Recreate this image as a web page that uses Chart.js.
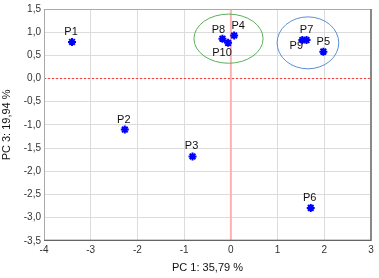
<!DOCTYPE html>
<html>
<head>
<meta charset="utf-8">
<script src="https://cdn.jsdelivr.net/npm/chart.js@4"></script>
<style>
  html, body { margin: 0; padding: 0; background: #fff; }
  #wrap { width: 379px; height: 278px; }
</style>
</head>
<body>
<div id="wrap"><canvas id="pcaChart"></canvas></div>
<script>
// scores of the samples on PC 1 and PC 3
const names = ["P1", "P2", "P3", "P4", "P5", "P6", "P7", "P8", "P9", "P10"];
const pc1 = [-3.40, -2.27, -0.82, 0.07, 1.98, 1.71, 1.62, -0.18, 1.53, -0.06];
const pc3 = [0.79, -1.10, -1.68, 0.93, 0.58, -2.79, 0.83, 0.86, 0.83, 0.77];

// groups circled on the plot: centre and half axes in data units
const groupCx = [-0.05, 1.65];
const groupCy = [0.86, 0.77];
const groupRx = [0.74, 0.66];
const groupRy = [0.53, 0.56];
const groupColors = ["#5aaf5a", "#5b8fd6"];

const xTicks = [-4, -3, -2, -1, 0, 1, 2, 3];
const yTicks = [1.5, 1, 0.5, 0, -0.5, -1, -1.5, -2, -2.5, -3, -3.5];

const FONT = "Liberation Sans, Arial, sans-serif";

// where each label sits relative to its point
const labelPlace = {
  P4: [4, -9], P8: [-4, -9], P10: [-6, 10], P9: [-6, 6], P5: [0, -10], P7: [0, -10]
};

const extras = {
  id: "extras",
  beforeDatasetsDraw(chart) {
    const ctx = chart.ctx;
    const xs = chart.scales.x, ys = chart.scales.y;
    const a = chart.chartArea;
    ctx.save();
    // zero lines
    ctx.strokeStyle = "#ffb0b0";
    ctx.lineWidth = 2;
    ctx.beginPath();
    ctx.moveTo(xs.getPixelForValue(0), a.top);
    ctx.lineTo(xs.getPixelForValue(0), a.bottom);
    ctx.stroke();
    ctx.strokeStyle = "#ff4040";
    ctx.lineWidth = 1;
    ctx.setLineDash([2, 2]);
    ctx.beginPath();
    ctx.moveTo(a.left, ys.getPixelForValue(0));
    ctx.lineTo(a.right, ys.getPixelForValue(0));
    ctx.stroke();
    ctx.setLineDash([]);
    // group ellipses
    for (let i = 0; i < groupCx.length; i++) {
      const cx = xs.getPixelForValue(groupCx[i]);
      const cy = ys.getPixelForValue(groupCy[i]);
      const rx = Math.abs(xs.getPixelForValue(groupCx[i] + groupRx[i]) - cx);
      const ry = Math.abs(ys.getPixelForValue(groupCy[i] + groupRy[i]) - cy);
      ctx.strokeStyle = groupColors[i];
      ctx.lineWidth = 1;
      ctx.beginPath();
      ctx.ellipse(cx, cy, rx, ry, 0, 0, Math.PI * 2);
      ctx.stroke();
    }
    ctx.restore();
  },
  afterDatasetsDraw(chart) {
    const ctx = chart.ctx;
    const a = chart.chartArea;
    const meta = chart.getDatasetMeta(0);
    ctx.save();
    ctx.font = "11px " + FONT;
    ctx.fillStyle = "#111";
    ctx.textAlign = "center";
    ctx.textBaseline = "middle";
    meta.data.forEach((pt, i) => {
      const off = labelPlace[names[i]] || [-1, -10];
      ctx.fillText(names[i], pt.x + off[0], pt.y + off[1]);
    });
    // frame
    ctx.strokeStyle = "#aaa";
    ctx.lineWidth = 1;
    ctx.strokeRect(a.left + 0.5, a.top + 0.5, a.right - a.left - 1, a.bottom - a.top - 1);
    ctx.strokeStyle = "#888";
    ctx.lineWidth = 2;
    ctx.beginPath();
    ctx.moveTo(a.right, a.top);
    ctx.lineTo(a.right, a.bottom);
    ctx.stroke();
    ctx.strokeStyle = "#555";
    ctx.lineWidth = 1;
    ctx.beginPath();
    ctx.moveTo(a.left, a.bottom - 0.5);
    ctx.lineTo(a.right, a.bottom - 0.5);
    ctx.stroke();
    ctx.restore();
  }
};

const fmt = v => String(v.toFixed(1)).replace(".", ",");

new Chart(document.getElementById("pcaChart").getContext("2d"), {
  type: "scatter",
  data: {
    datasets: [{
      label: "samples",
      data: pc1.map((x, i) => ({ x: x, y: pc3[i] })),
      pointStyle: "star",
      radius: 4,
      borderWidth: 2,
      borderColor: "#0000ff",
      backgroundColor: "#0000ff"
    }]
  },
  options: {
    responsive: true,
    maintainAspectRatio: false,
    animation: false,
    layout: { padding: { top: 8, right: 8, left: 0, bottom: 3 } },
    plugins: { legend: { display: false }, tooltip: { enabled: false } },
    scales: {
      x: {
        type: "linear",
        min: -4, max: 3,
        afterBuildTicks: s => { s.ticks = xTicks.map(v => ({ value: v })); },
        ticks: { font: { family: FONT, size: 10 }, color: "#333", padding: 3,
          callback: v => String(v) },
        grid: { color: "#dcdcdc", drawTicks: false },
        border: { color: "#999" },
        title: { display: true, text: "PC 1: 35,79 %", font: { family: FONT, size: 11 },
          color: "#111", padding: { top: 3, bottom: 0 } }
      },
      y: {
        type: "linear",
        min: -3.5, max: 1.5,
        afterBuildTicks: s => { s.ticks = yTicks.map(v => ({ value: v })); },
        afterFit: s => { s.width = 44; },
        ticks: { font: { family: FONT, size: 10 }, color: "#333", padding: 3,
          callback: v => fmt(v) },
        grid: { color: "#dcdcdc", drawTicks: false },
        border: { color: "#999" },
        title: { display: true, text: "PC 3: 19,94 %", font: { family: FONT, size: 11 },
          color: "#111", padding: 0 }
      }
    }
  },
  plugins: [extras]
});
</script>
</body>
</html>
